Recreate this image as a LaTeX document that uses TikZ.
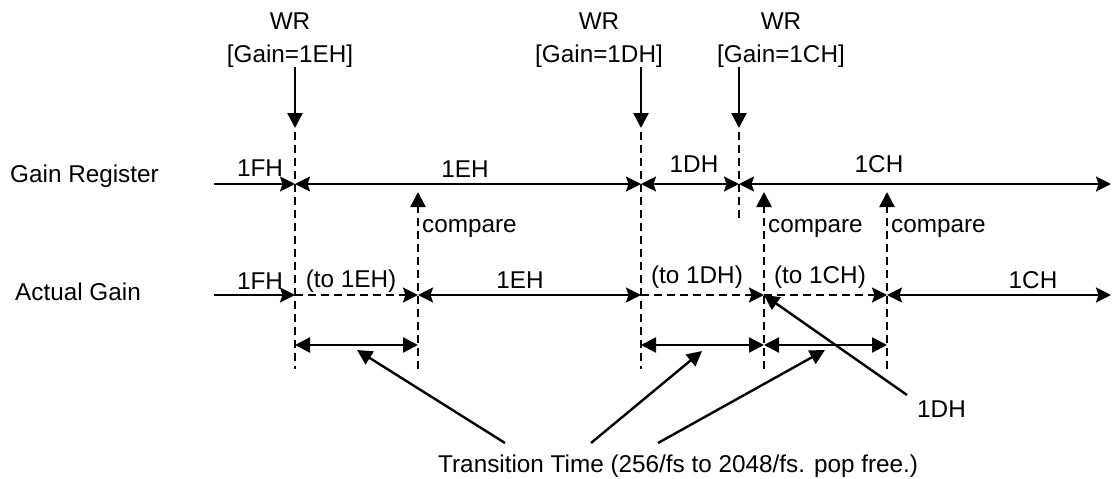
\documentclass[tikz,border=0pt]{standalone}
\usepackage{fontspec}
\setmainfont{Liberation Sans}
\usetikzlibrary{arrows.meta}
\tikzset{
  lbl/.style={inner sep=0pt, anchor=base, font=\fontsize{24.3}{28}\selectfont},
  lblw/.style={inner sep=0pt, anchor=base west, font=\fontsize{24.3}{28}\selectfont},
  ln/.style={line width=2.4pt},
  dln/.style={line width=2.4pt, dash pattern=on 8pt off 5pt},
  tip/.style={-{Stealth[length=15pt,width=15pt,inset=2.5pt]}},
  tips/.style={{Stealth[length=15pt,width=15pt,inset=2.5pt]}-{Stealth[length=15pt,width=15pt,inset=2.5pt]}},
  ttip/.style={-{Triangle[length=15pt,width=15pt]}},
  ttips/.style={{Triangle[length=15pt,width=15pt]}-{Triangle[length=15pt,width=15pt]}},
}
\begin{document}
\begin{tikzpicture}[x=1pt,y=-1pt]
\useasboundingbox (0,0) rectangle (1112,479);
% row labels
\node[lblw] (gr) at (10,182) {Gain Register};
\node[lblw] (ag) at (15,300) {Actual Gain};
% WR labels
\node[lbl] (wr1) at (290,30) {WR};
\node[lbl] (g1) at (290,62) {[Gain=1EH]};
\node[lbl] (wr2) at (599,30) {WR};
\node[lbl] (g2) at (599,62) {[Gain=1DH]};
\node[lbl] (wr3) at (781,30) {WR};
\node[lbl] (g3) at (781,62) {[Gain=1CH]};
% WR arrows
\coordinate (a1) at (295,67); \coordinate (b1) at (295,128);
\coordinate (a2) at (641,67); \coordinate (b2) at (641,128);
\coordinate (a3) at (739,67); \coordinate (b3) at (739,128);
\draw[ln,ttip] (a1) -- (b1);
\draw[ln,ttip] (a2) -- (b2);
\draw[ln,ttip] (a3) -- (b3);
% vertical dashed lines
\coordinate (v1t) at (295,132); \coordinate (v1b) at (295,369);
\coordinate (v3t) at (641,132); \coordinate (v3b) at (641,369);
\coordinate (v4t) at (739,132); \coordinate (v4b) at (739,222);
\draw[dln] (v1t) -- (v1b);
\draw[dln] (v3t) -- (v3b);
\draw[dln] (v4t) -- (v4b);
% compare arrows
\coordinate (c1b) at (418,369); \coordinate (c1t) at (418,192);
\coordinate (c2b) at (764,369); \coordinate (c2t) at (764,192);
\coordinate (c3b) at (887,369); \coordinate (c3t) at (887,192);
\draw[dln,ttip] (c1b) -- (c1t);
\draw[dln,ttip] (c2b) -- (c2t);
\draw[dln,ttip] (c3b) -- (c3t);
\node[lblw] (cp1) at (422,232) {compare};
\node[lblw] (cp2) at (768,232) {compare};
\node[lblw] (cp3) at (891,232) {compare};
% gain register line
\coordinate (r0) at (214,184); \coordinate (r1) at (295,184);
\coordinate (r2) at (641,184); \coordinate (r3) at (739,184);
\coordinate (r4) at (1111,184);
\draw[ln,tip] (r0) -- (r1);
\draw[ln,tips] (r1) -- (r2);
\draw[ln,tips] (r2) -- (r3);
\draw[ln,tips] (r3) -- (r4);
\node[lbl] (l1) at (260,176) {1FH};
\node[lbl] (l2) at (465,177) {1EH};
\node[lbl] (l3) at (694,172) {1DH};
\node[lbl] (l4) at (879,172) {1CH};
% actual gain line
\coordinate (s0) at (214,295); \coordinate (s1) at (295,295);
\coordinate (s2) at (418,295); \coordinate (s3) at (641,295);
\coordinate (s4) at (764,295); \coordinate (s5) at (887,295);
\coordinate (s6) at (1111,295);
\draw[ln,tip] (s0) -- (s1);
\draw[dln,tip] (s1) -- (s2);
\draw[ln,tips] (s2) -- (s3);
\draw[dln,tip] (s3) -- (s4);
\draw[dln,tip] (s4) -- (s5);
\draw[ln,tips] (s5) -- (s6);
\node[lbl] (m1) at (260,289) {1FH};
\node[lbl] (m2) at (351,287) {(to 1EH)};
\node[lbl] (m3) at (520,288) {1EH};
\node[lbl] (m4) at (697,283) {(to 1DH)};
\node[lbl] (m5) at (820,283) {(to 1CH)};
\node[lbl] (m6) at (1033,288) {1CH};
% transition arrows
\coordinate (t1) at (295,345); \coordinate (t2) at (418,345);
\coordinate (t3) at (641,345); \coordinate (t4) at (764,345);
\coordinate (t5) at (887,345);
\draw[ln,ttips] (t1) -- (t2);
\draw[ln,ttips] (t3) -- (t4);
\draw[ln,ttips] (t4) -- (t5);
% transition text and pointers
\node[lblw] (tt) at (438,472) {Transition Time (256/fs to 2048/fs. pop free.)};
\coordinate (p1s) at (505,443); \coordinate (p1e) at (357,350);
\coordinate (p2s) at (591,443); \coordinate (p2e) at (702,351);
\coordinate (p3s) at (658,443); \coordinate (p3e) at (825,350);
\draw[ln,ttip] (p1s) -- (p1e);
\draw[ln,ttip] (p2s) -- (p2e);
\draw[ln,ttip] (p3s) -- (p3e);
% 1DH pointer
\node[lblw] (dh) at (917,417) {1DH};
\coordinate (q1) at (907,395);
\draw[ln,ttip] (q1) -- (s4);
\end{tikzpicture}
\end{document}
